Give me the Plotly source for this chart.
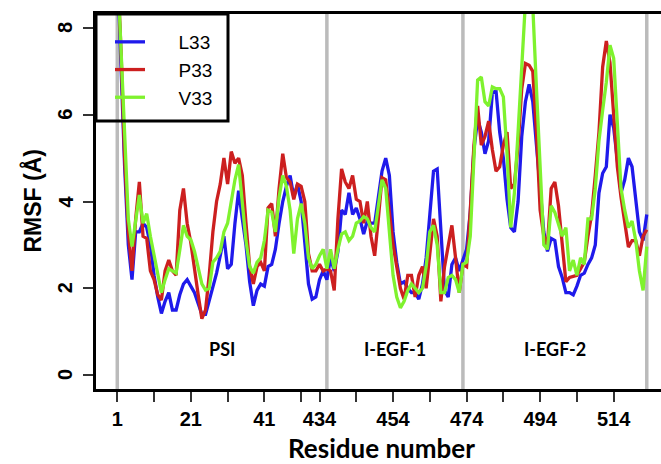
import plotly.graph_objects as go

# ---------------- data ----------------
residues = list(range(1, 56)) + list(range(434, 524))

L33 = [9.5, 7.0, 4.8, 3.0, 2.2, 3.3, 3.3, 3.5, 3.4, 3.0,
       2.3, 1.8, 1.42, 1.7, 1.9, 1.5, 1.5, 1.85, 2.1, 2.2,
       2.05, 1.9, 1.65, 1.4, 1.4, 1.7, 2.0, 2.35, 2.75, 3.2,
       2.45, 2.55, 3.5, 4.25, 3.6, 3.0, 2.15, 1.6, 1.95, 2.1,
       2.05, 2.5, 2.55, 2.9, 3.5, 4.0, 4.35, 4.6, 4.1, 4.4,
       4.0, 2.95, 2.1, 1.75, 1.8, 2.2, 2.4, 2.2, 2.7, 2.4,
       2.85, 3.8, 3.7, 4.2, 3.7, 3.85, 3.6, 3.25, 3.55, 3.5,
       3.5, 4.1, 4.7, 5.0, 4.6, 3.3, 2.6, 2.1, 2.15, 2.0,
       1.9, 1.9, 1.75, 2.1, 2.7, 3.7, 4.7, 4.75, 3.4, 1.95,
       1.8, 2.55, 2.7, 2.4, 2.65, 2.9, 3.75, 5.2, 5.9, 5.6,
       5.1, 5.4, 6.5, 6.55, 5.6, 5.0, 4.05, 3.4, 3.3, 4.0,
       5.5, 6.3, 6.7, 6.3, 5.3, 4.3, 3.3, 2.85, 3.15, 3.1,
       2.5, 2.25, 1.9, 1.9, 1.85, 2.05, 2.3, 2.35, 2.55, 2.7,
       3.0, 4.2, 4.65, 4.8, 6.0, 5.7, 5.0, 4.2, 4.5, 5.0,
       4.8, 4.1, 3.3, 3.1, 3.7]

P33 = [9.5, 7.5, 5.0, 3.3, 2.4, 3.6, 4.45, 3.2, 3.15, 2.4,
       2.2, 1.85, 1.73, 2.4, 2.65, 2.4, 2.3, 3.8, 4.3, 3.5,
       3.05, 2.4, 1.85, 1.3, 1.5, 2.3, 3.3, 4.0, 4.4, 5.0,
       4.4, 5.15, 4.88, 5.0, 4.6, 3.5, 2.5, 2.1, 2.5, 2.6,
       2.4, 3.85, 3.95, 3.2, 4.3, 5.1, 4.55, 4.45, 4.05, 4.4,
       4.35, 4.0, 2.8, 2.4, 2.4, 2.55, 2.4, 2.45, 2.4, 1.95,
       3.6, 4.75, 4.45, 4.3, 4.6, 4.05, 4.0, 3.5, 4.0, 3.2,
       2.75, 3.6, 4.55, 4.5, 3.8, 3.0, 2.5, 2.0, 1.75, 2.3,
       2.3, 1.8, 2.3, 2.5, 2.0, 2.8, 3.6, 3.2, 1.7, 2.5,
       3.0, 3.45, 2.7, 1.9, 2.55, 2.5, 3.8, 5.3, 6.2, 5.3,
       5.5, 5.85, 5.2, 4.7, 4.8, 5.3, 5.6, 4.3, 4.4, 5.3,
       6.6, 7.18, 7.14, 7.0, 5.6, 3.8, 3.2, 3.0, 4.3, 4.45,
       3.9, 3.0, 2.15, 2.25, 2.28, 2.3, 2.45, 2.6, 3.2, 3.7,
       4.6, 5.6, 7.1, 7.7, 7.2, 6.0, 4.8, 4.1, 3.5, 2.95,
       3.1, 3.1, 2.75, 3.2, 3.35]

V33 = [9.5, 7.5, 5.5, 3.6, 2.96, 3.5, 4.15, 3.5, 3.72, 3.2,
       2.75, 2.3, 1.9, 2.2, 2.45, 2.4, 2.35, 2.88, 3.45, 3.2,
       3.12, 2.85, 2.5, 2.1, 1.96, 2.0, 2.6, 2.7, 2.85, 3.3,
       3.5, 4.0, 4.5, 4.85, 4.0, 3.1, 2.5, 2.35, 2.6, 2.7,
       3.1, 3.8, 3.75, 3.3, 4.1, 4.6, 4.35, 3.8, 2.8, 3.6,
       3.95, 3.5, 2.7, 2.45, 2.55, 2.75, 2.9, 2.45, 2.9, 2.45,
       2.9, 3.25, 3.3, 3.1, 3.2, 3.5, 3.55, 3.65, 3.6, 3.4,
       3.3, 3.9, 4.5, 4.3, 3.2, 2.3, 1.8, 1.55, 1.7, 1.95,
       2.1, 2.0, 1.9, 2.0, 2.5, 3.3, 3.45, 3.0, 1.9, 1.9,
       2.25, 2.3, 2.2, 1.9, 2.55, 2.6, 3.2, 5.0, 6.8, 6.87,
       6.3, 6.2, 6.64, 6.6, 6.6, 6.41, 5.1, 3.4, 4.2, 5.6,
       7.3, 8.6, 8.8, 8.5, 6.6, 4.8, 3.0, 2.9, 3.9, 3.75,
       3.5, 3.2, 3.4, 2.4, 2.65, 2.3, 2.7, 2.55, 3.6, 3.6,
       4.3, 5.4, 6.1, 6.75, 7.6, 7.3, 5.8, 4.3, 3.8, 3.4,
       3.55, 3.1, 2.4, 1.95, 2.96]

tick_residues = [1, 11, 21, 31, 41, 51, 434, 444, 454, 464, 474, 484, 494, 504, 514]
tick_labels = ["1", "", "21", "", "41", "", "434", "", "454", "", "474", "", "494", "", "514"]
y_ticks = [0, 2, 4, 6, 8]
domain_bounds = [1, 436, 473, 523]
domain_names = ["PSI", "I-EGF-1", "I-EGF-2"]
series_names = ["L33", "P33", "V33"]
series_colors = ["#1F1AEB", "#CC1F1F", "#7FF22E"]

# ---------------- figure ----------------
pos = {r: i for i, r in enumerate(residues)}
xs = list(range(len(residues)))

fig = go.Figure()
for name, vals, col in zip(series_names, [L33, P33, V33], series_colors):
    fig.add_trace(go.Scatter(x=xs, y=vals, mode="lines",
                             name="\u200b\u2003\u2002" + name,
                             line=dict(color=col, width=3.3)))

# domain separators
for r in domain_bounds:
    fig.add_shape(type="line", xref="x", yref="paper", x0=pos[r], x1=pos[r],
                  y0=0, y1=1, line=dict(color="#BBBBBB", width=3.5), layer="below")

# domain labels
for i, nm in enumerate(domain_names):
    xm = (pos[domain_bounds[i]] + pos[domain_bounds[i + 1]]) / 2
    fig.add_annotation(x=xm, y=0.6, xref="x", yref="y", text="<b>" + nm + "</b>",
                       showarrow=False, xanchor="center", yanchor="middle",
                       font=dict(family="Lato", size=18, color="black"))

# y tick labels (rotated, R style)
for v in y_ticks:
    fig.add_annotation(x=(65 - 96) / 565, y=v, xref="paper", yref="y", text="<b>%d</b>" % v,
                       textangle=-90, showarrow=False, xanchor="center", yanchor="middle",
                       font=dict(family="Arial, Liberation Sans", size=20, color="black"))

# legend frame
fig.add_shape(type="rect", xref="paper", yref="paper", x0=0, x1=132 / 565,
              y0=(375 - 107) / 375, y1=1, line=dict(color="black", width=3),
              fillcolor="rgba(0,0,0,0)")

fig.add_annotation(x=(381 - 96) / 565, y=(389 - 448) / 375, xref="paper", yref="paper",
                   text="<b>Residue number</b>", showarrow=False,
                   xanchor="center", yanchor="middle",
                   font=dict(family="Lato", size=26, color="black"))
fig.add_annotation(x=(32 - 96) / 565, y=0.5, xref="paper", yref="paper",
                   text="<b>RMSF (Å)</b>", textangle=-90, showarrow=False,
                   xanchor="center", yanchor="middle",
                   font=dict(family="Arial, Liberation Sans", size=23, color="black"))

fig.update_layout(
    width=661, height=464, autosize=False,
    margin=dict(l=96, r=0, t=14, b=75),
    plot_bgcolor="white", paper_bgcolor="white",
    showlegend=True,
    legend=dict(x=14 / 565, y=(375 - 9) / 375, xanchor="left", yanchor="top",
                bgcolor="rgba(0,0,0,0)", borderwidth=0,
                font=dict(family="Arial, Liberation Sans", size=19, color="black")),
    xaxis=dict(range=[-5.79, 147.87], tickmode="array",
               tickvals=[pos[r] for r in tick_residues], ticktext=tick_labels,
               showgrid=False, zeroline=False, showline=True, linecolor="black",
               linewidth=3, mirror=True, ticks="outside", ticklen=10, tickwidth=1.5,
               tickcolor="#333333",
               tickfont=dict(family="Arial, Liberation Sans", size=20, color="black", weight="bold")),
    yaxis=dict(range=[-0.32, 8.32], tickvals=y_ticks, showticklabels=False,
               showgrid=False, zeroline=False, showline=True, linecolor="black",
               linewidth=3, ticks="outside", ticklen=10, tickwidth=1.5, tickcolor="#333333"),
)

fig.write_html("out.html")
